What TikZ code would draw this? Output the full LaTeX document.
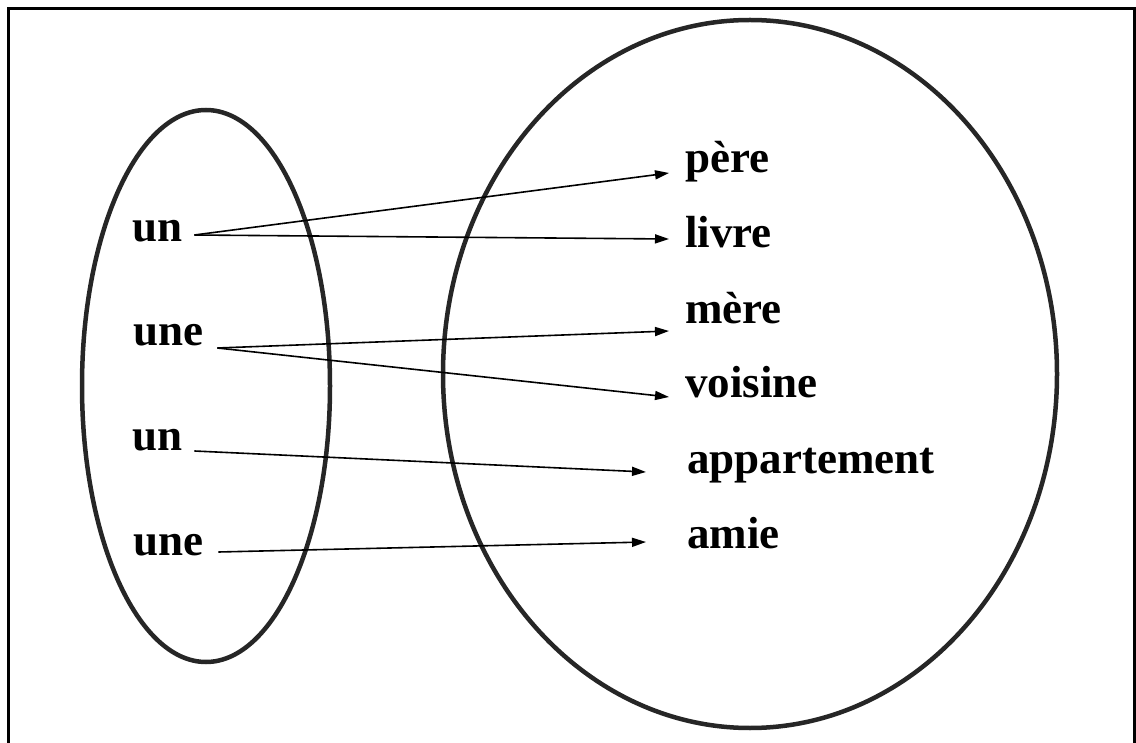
\documentclass[tikz,border=0pt]{standalone}
\usepackage{fontspec}
\setmainfont{Liberation Serif}
\usetikzlibrary{arrows.meta}
\begin{document}
\begin{tikzpicture}[x=1pt,y=-1pt,
  word/.style={anchor=base west,inner sep=0pt,text height=20pt,text depth=0pt,
    font=\fontsize{45pt}{50pt}\selectfont\bfseries},
  setline/.style={line width=4.5pt,black!85},
  framel/.style={line width=3pt,black},
  arr/.style={line width=1.6pt,-{Triangle[length=14pt,width=9pt]}}]
\useasboundingbox (0,0) rectangle (1136,743);
% frame
\draw[framel] (8,743) -- (8,9) -- (1134,9) -- (1134,743);
% sets
\draw[setline] (206,386) ellipse [x radius=124pt, y radius=276pt];
\draw[setline] (750,374) ellipse [x radius=307pt, y radius=354pt];
% left words
\node[word] (un1) at (132,242) {un};
\node[word] (une1) at (133,346) {une};
\node[word] (un2) at (132,450) {un};
\node[word] (une2) at (133,555) {une};
% right words
\node[word] (pere) at (685,173) {père};
\node[word] (livre) at (685,248) {livre};
\node[word] (mere) at (685,324) {mère};
\node[word] (voisine) at (685,398) {voisine};
\node[word] (appart) at (687,473) {appartement};
\node[word] (amie) at (687,548) {amie};
% arrows
\draw[arr] ([xshift=12pt,yshift=-3pt]un1.east) -- ([xshift=-16pt,yshift=-10pt]pere.west);
\draw[arr] ([xshift=12pt,yshift=-3pt]un1.east) -- ([xshift=-16pt,yshift=-1pt]livre.west);
\draw[arr] ([xshift=14pt,yshift=-12pt]une1.east) -- ([xshift=-16pt,yshift=-17pt]mere.west);
\draw[arr] ([xshift=14pt,yshift=-12pt]une1.east) -- ([xshift=-16pt,yshift=-9pt]voisine.west);
\draw[arr] ([xshift=12pt,yshift=-11pt]un2.east) -- ([xshift=-41pt,yshift=-9pt]appart.west);
\draw[arr] ([xshift=15pt,yshift=-7pt]une2.east) -- ([xshift=-41pt,yshift=-4pt]amie.west);
\end{tikzpicture}
\end{document}
